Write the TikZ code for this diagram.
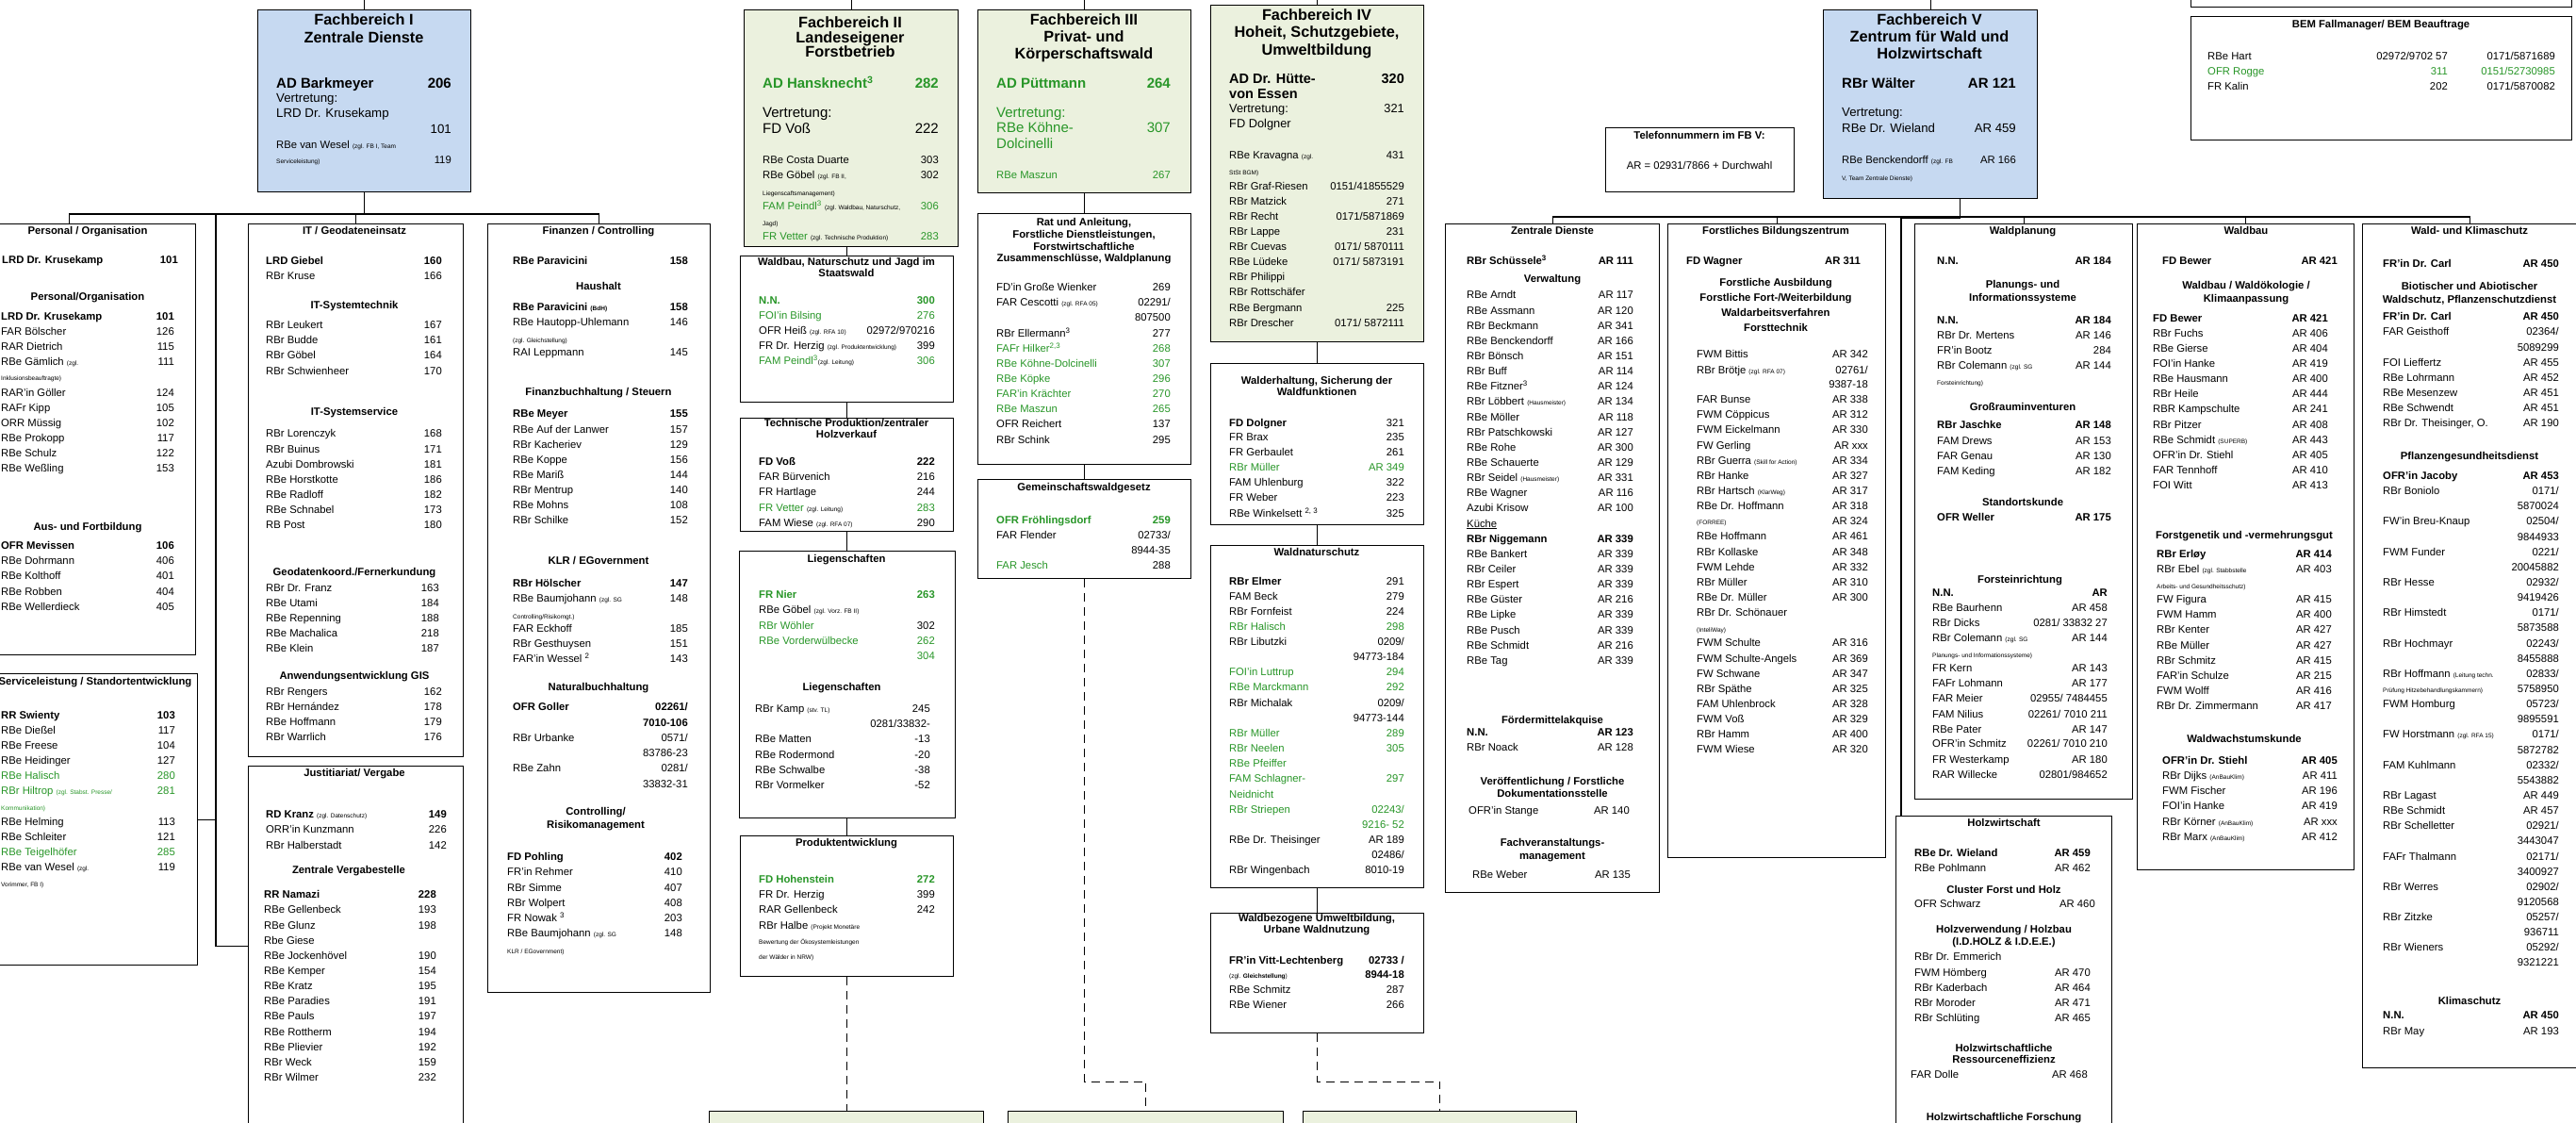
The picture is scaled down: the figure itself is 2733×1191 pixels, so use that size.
\documentclass[tikz,border=0pt]{standalone}
\usepackage{fontspec}
\setmainfont{Liberation Sans}
\usepackage{xcolor}
\usetikzlibrary{positioning}

\definecolor{fbblue}{RGB}{198,217,241}
\definecolor{fbpale}{RGB}{235,241,222}
\definecolor{fbgreen}{RGB}{40,150,40}

\newcommand\gr[1]{\textcolor{fbgreen}{#1}}
\newcommand\sm[1]{{\fontsize{6.5}{7}\selectfont #1}}
\newcommand\hi[1]{\textsuperscript{#1}}
\newcount\rowno
\newcommand\cols[3]{\def\xl{#1}\def\xr{#2}\def\xc{#3}}
% one line: name left, number right
\newcommand\rw[3]{\global\advance\rowno by 1 \edef\rn{\the\rowno}
  \node[nametext] (n\rn) at (\xl,#1+4) {#2};
  \node[numtext] (m\rn) at (\xr,#1+4) {#3};}
\newcommand\rwX[4]{\global\advance\rowno by 1 \edef\rn{\the\rowno}
  \pgfmathsetmacro\yb{#2+0.36*#1}
  \node[nametext, font=\fontsize{#1}{#1}\selectfont] (n\rn) at (\xl,\yb) {#3};
  \node[numtext, font=\fontsize{#1}{#1}\selectfont] (m\rn) at (\xr,\yb) {#4};}
\newcommand\rwm[2]{\global\advance\rowno by 1 \edef\rn{\the\rowno}
  \node[numtext] (c\rn) at (\xm,#1+4) {#2};}
\newcommand\hd[2]{\global\advance\rowno by 1 \edef\rn{\the\rowno}
  \node[headtext] (h\rn) at (\xc,#1+4) {#2};}
\newcommand\tl[2]{\global\advance\rowno by 1 \edef\rn{\the\rowno}
  \node[headtext, font=\bfseries\fontsize{16.3}{18}\selectfont] (t\rn) at (\xc,#1+6) {#2};}

\begin{document}
\begin{tikzpicture}[x=1pt, y=-1pt,
  unitbox/.style={draw, line width=1.1pt, anchor=north west, inner sep=0pt, fill=white},
  bluebox/.style={unitbox, fill=fbblue},
  palebox/.style={unitbox, fill=fbpale},
  link/.style={line width=1.1pt},
  dashlink/.style={link, dash pattern=on 9pt off 6pt},
  nametext/.style={anchor=base west, inner sep=0pt, font=\fontsize{11.3}{16}\selectfont},
  numtext/.style={anchor=base east, inner sep=0pt, font=\fontsize{11.3}{16}\selectfont},
  headtext/.style={anchor=base, inner sep=0pt, font=\bfseries\fontsize{11.3}{16}\selectfont}]
\useasboundingbox (0,0) rectangle (2733,1191);

% Fachbereiche
\node[bluebox, minimum width=226pt, minimum height=193pt] (fb1) at (273,10) {};
\node[palebox, minimum width=227pt, minimum height=251pt] (fb2) at (789,10) {};
\node[palebox, minimum width=226pt, minimum height=194pt] (fb3) at (1037,10) {};
\node[palebox, minimum width=226pt, minimum height=357pt] (fb4) at (1284,5) {};
\node[bluebox, minimum width=227pt, minimum height=200pt] (fb5) at (1934,10) {};

% Units FB I
\node[unitbox, minimum width=268pt, minimum height=457pt] (pers) at (-61,237) {};
\node[unitbox, minimum width=270pt, minimum height=309pt] (svc) at (-61,714) {};
\node[unitbox, minimum width=228pt, minimum height=565pt] (it) at (263,237) {};
\node[unitbox, minimum width=228pt, minimum height=382pt] (just) at (263,812) {};
\node[unitbox, minimum width=236pt, minimum height=815pt] (fin) at (517,237) {};

% Units FB II, III, IV
\node[unitbox, minimum width=226pt, minimum height=155pt] (wn) at (785,271) {};
\node[unitbox, minimum width=226pt, minimum height=120pt] (tp) at (785,443) {};
\node[unitbox, minimum width=229pt, minimum height=283pt] (lg) at (784,584) {};
\node[unitbox, minimum width=226pt, minimum height=149pt] (pe) at (785,886) {};
\node[unitbox, minimum width=226pt, minimum height=266pt] (rat) at (1037,226) {};
\node[unitbox, minimum width=226pt, minimum height=105pt] (gem) at (1037,508) {};
\node[unitbox, minimum width=226pt, minimum height=171pt] (weh) at (1284,385) {};
\node[unitbox, minimum width=226pt, minimum height=363pt] (wns) at (1284,578) {};
\node[unitbox, minimum width=226pt, minimum height=127pt] (wbu) at (1284,968) {};
\node[palebox, minimum width=291pt, minimum height=40pt] (g1) at (752,1178) {};
\node[palebox, minimum width=292pt, minimum height=40pt] (g2) at (1069,1178) {};
\node[palebox, minimum width=290pt, minimum height=40pt] (g3) at (1382,1178) {};

% Units FB V
\node[unitbox, minimum width=200pt, minimum height=68pt] (tel) at (1703,135) {};
\node[unitbox, minimum width=404pt, minimum height=47pt] (topbox) at (2324,-40) {};
\node[unitbox, minimum width=404pt, minimum height=131pt] (bem) at (2324,17) {};
\node[unitbox, minimum width=227pt, minimum height=709pt] (zd) at (1533,237) {};
\node[unitbox, minimum width=231pt, minimum height=672pt] (fbz) at (1769,237) {};
\node[unitbox, minimum width=231pt, minimum height=610pt] (wp) at (2031,237) {};
\node[unitbox, minimum width=230pt, minimum height=685pt] (wb) at (2267,237) {};
\node[unitbox, minimum width=228pt, minimum height=895pt] (wk) at (2506,237) {};
\node[unitbox, minimum width=229pt, minimum height=340pt] (hw) at (2011,865) {};

% Connectors
\draw[link] (fb1.north) -- ++(0,-12);
\draw[link] (fb2.north) -- ++(0,-12);
\draw[link] (fb3.north) -- ++(0,-12);
\draw[link] (fb4.north) -- ++(0,-8);
\draw[link] (fb5.north) -- ++(0,-12);
\draw[link] (fb1.south) -- ++(0,24);
\draw[link] (pers.north) -- ++(0,-10) -| (fin.north);
\draw[link] (it.north) -- ++(0,-10);
\coordinate (spine) at (229,227);
\draw[link] (spine) |- (just.west);
\draw[link] (svc.east) -| (spine);
\draw[link] (wn.north) -- (wn.north |- fb2.south);
\draw[link] (wn.south) -- (tp.north);
\draw[link] (tp.south) -- (tp.south |- lg.north);
\draw[link] (pe.north) -- (pe.north |- lg.south);
\draw[dashlink] (pe.south) -- (pe.south |- g1.north);
\draw[link] (fb3.south) -- (rat.north);
\draw[link] (rat.south) -- (gem.north);
\draw[dashlink] (gem.south) -- ++(0,533) -| (g2.north);
\draw[link] (fb4.south) -- (weh.north);
\draw[link] (weh.south) -- (wns.north);
\draw[link] (wns.south) -- (wbu.north);
\draw[dashlink] (wbu.south) -- ++(0,51) -| (g3.north);
\draw[link] ([xshift=31.5pt]fb5.south) -- ++(0,20) coordinate (bar5);
\draw[link] (zd.north) -- ++(0,-7) -| (wk.north);
\draw[link] (fbz.north) -- ++(0,-7);
\draw[link] (wp.north) -- ++(0,-7);
\draw[link] (wb.north) -- ++(0,-7);
\draw[link] ([xshift=6pt]hw.north west) |- (bar5);

% FB I
\cols{293}{479}{386}
\tl{21}{Fachbereich I}
\tl{39}{Zentrale Dienste}
\rwX{15}{88}{\textbf{AD Barkmeyer}}{\textbf{206}}
\rwX{13.3}{104}{Vertretung:}{}
\rwX{13.3}{120}{LRD Dr. Krusekamp}{}
\rwX{13.3}{137}{}{101}
\rw{153}{RBe van Wesel \sm{(zgl. FB I, Team}}{}
\rw{169}{\sm{Serviceleistung)}}{119}

% Personal / Organisation
\cols{2}{189}{93}
\hd{244}{Personal / Organisation}
\rw{275}{\textbf{LRD Dr. Krusekamp}}{\textbf{101}}
\cols{1}{185}{93}
\hd{314}{Personal/Organisation}
\rw{335}{\textbf{LRD Dr. Krusekamp}}{\textbf{101}}
\rw{351}{FAR Bölscher}{126}
\rw{367}{RAR Dietrich}{115}
\rw{383}{RBe Gämlich \sm{(zgl.}}{111}
\rw{399}{\sm{Inklusionsbeauftragte)}}{}
\rw{416}{RAR’in Göller}{124}
\rw{432}{RAFr Kipp}{105}
\rw{448}{ORR Müssig}{102}
\rw{464}{RBe Prokopp}{117}
\rw{480}{RBe Schulz}{122}
\rw{496}{RBe Weßling}{153}
\hd{558}{Aus- und Fortbildung}
\rw{578}{\textbf{OFR Mevissen}}{\textbf{106}}
\rw{594}{RBe Dohrmann}{406}
\rw{610}{RBe Kolthoff}{401}
\rw{627}{RBe Robben}{404}
\rw{643}{RBe Wellerdieck}{405}

% Serviceleistung
\cols{1}{186}{101}
\hd{722}{Serviceleistung / Standortentwicklung}
\rw{758}{\textbf{RR Swienty}}{\textbf{103}}
\rw{774}{RBe Dießel}{117}
\rw{790}{RBe Freese}{104}
\rw{806}{RBe Heidinger}{127}
\rw{822}{\gr{RBe Halisch}}{\gr{280}}
\rw{838}{\gr{RBr Hiltrop \sm{(zgl. Stabst. Presse/}}}{\gr{281}}
\rw{855}{\gr{\sm{Kommunikation)}}}{}
\rw{871}{RBe Helming}{113}
\rw{887}{RBe Schleiter}{121}
\rw{903}{\gr{RBe Teigelhöfer}}{\gr{285}}
\rw{919}{RBe van Wesel \sm{(zgl.}}{119}
\rw{936}{\sm{Vorimmer, FB I)}}{}

% IT / Geodateneinsatz
\cols{282}{469}{376}
\hd{244}{IT / Geodateneinsatz}
\rw{276}{\textbf{LRD Giebel}}{\textbf{160}}
\rw{292}{RBr Kruse}{166}
\hd{323}{IT-Systemtechnik}
\rw{344}{RBr Leukert}{167}
\rw{360}{RBr Budde}{161}
\rw{376}{RBr Göbel}{164}
\rw{393}{RBr Schwienheer}{170}
\hd{436}{IT-Systemservice}
\rw{459}{RBr Lorenczyk}{168}
\rw{476}{RBr Buinus}{171}
\rw{492}{Azubi Dombrowski}{181}
\rw{508}{RBe Horstkotte}{186}
\rw{524}{RBe Radloff}{182}
\rw{540}{RBe Schnabel}{173}
\rw{556}{RB Post}{180}
\hd{606}{Geodatenkoord./Fernerkundung}
\cols{282}{466}{376}
\rw{623}{RBr Dr. Franz}{163}
\rw{639}{RBe Utami}{184}
\rw{655}{RBe Repenning}{188}
\rw{671}{RBe Machalica}{218}
\rw{687}{RBe Klein}{187}
\hd{716}{Anwendungsentwicklung GIS}
\cols{282}{469}{376}
\rw{733}{RBr Rengers}{162}
\rw{749}{RBr Hernández}{178}
\rw{765}{RBe Hoffmann}{179}
\rw{781}{RBr Warrlich}{176}

% Justitiariat / Vergabe
\cols{282}{474}{376}
\hd{819}{Justitiariat/ Vergabe}
\rw{863}{\textbf{RD Kranz} \sm{(zgl. Datenschutz)}}{\textbf{149}}
\rw{879}{ORR’in Kunzmann}{226}
\rw{896}{RBr Halberstadt}{142}
\cols{280}{463}{370}
\hd{922}{Zentrale Vergabestelle}
\rw{948}{\textbf{RR Namazi}}{\textbf{228}}
\rw{964}{RBe Gellenbeck}{193}
\rw{981}{RBe Glunz}{198}
\rw{997}{Rbe Giese}{}
\rw{1013}{RBe Jockenhövel}{190}
\rw{1029}{RBe Kemper}{154}
\rw{1045}{RBe Kratz}{195}
\rw{1061}{RBe Paradies}{191}
\rw{1077}{RBe Pauls}{197}
\rw{1094}{RBe Rottherm}{194}
\rw{1110}{RBe Plievier}{192}
\rw{1126}{RBr Weck}{159}
\rw{1142}{RBr Wilmer}{232}

% Finanzen / Controlling
\cols{544}{730}{635}
\hd{244}{Finanzen / Controlling}
\rw{276}{\textbf{RBe Paravicini}}{\textbf{158}}
\hd{303}{Haushalt}
\rw{325}{\textbf{RBe Paravicini} \sm{\textbf{(BdH)}}}{\textbf{158}}
\rw{341}{RBe Hautopp-Uhlemann}{146}
\rw{359}{\sm{(zgl. Gleichstellung)}}{}
\rw{373}{RAI Leppmann}{145}
\hd{415}{Finanzbuchhaltung / Steuern}
\rw{438}{\textbf{RBe Meyer}}{\textbf{155}}
\rw{455}{RBe Auf der Lanwer}{157}
\rw{471}{RBr Kacheriev}{129}
\rw{487}{RBe Koppe}{156}
\rw{503}{RBe Mariß}{144}
\rw{519}{RBr Mentrup}{140}
\rw{535}{RBe Mohns}{108}
\rw{551}{RBr Schilke}{152}
\hd{594}{KLR /  EGovernment}
\rw{618}{\textbf{RBr Hölscher}}{\textbf{147}}
\rw{634}{RBe Baumjohann \sm{(zgl. SG}}{148}
\rw{652}{\sm{Controlling/Risikomgt.)}}{}
\rw{666}{FAR Eckhoff}{185}
\rw{682}{RBr Gesthuysen}{151}
\rw{698}{FAR’in Wessel \hi{2}}{143}
\hd{728}{Naturalbuchhaltung}
\rw{749}{\textbf{OFR Goller}}{\textbf{02261/}}
\rw{766}{}{\textbf{7010-106}}
\rw{782}{RBr Urbanke}{0571/}
\rw{798}{}{83786-23}
\rw{814}{RBe Zahn}{0281/}
\rw{831}{}{33832-31}
\cols{538}{724}{632}
\hd{860}{Controlling/}
\hd{874}{Risikomanagement}
\rw{908}{\textbf{FD Pohling}}{\textbf{402}}
\rw{924}{FR’in Rehmer}{410}
\rw{941}{RBr Simme}{407}
\rw{957}{RBr Wolpert}{408}
\rw{973}{FR Nowak \hi{3}}{203}
\rw{989}{RBe Baumjohann \sm{(zgl. SG}}{148}
\rw{1007}{\sm{KLR / EGovernment)}}{}

% FB II
\cols{809}{996}{902}
\tl{23}{Fachbereich II}
\tl{39}{Landeseigener}
\tl{54}{Forstbetrieb}
\rwX{15}{88}{\gr{\textbf{AD Hansknecht\hi{3}}}}{\gr{\textbf{282}}}
\rwX{15}{119}{Vertretung:}{}
\rwX{15}{136}{FD Voß}{222}
\rw{169}{RBe Costa Duarte}{303}
\rw{185}{RBe Göbel \sm{(zgl. FB II,}}{302}
\rw{203}{\sm{Liegenscaftsmanagement)}}{}
\rw{218}{\gr{FAM Peindl\hi{3}} \sm{(zgl. Waldbau, Naturschutz,}}{\gr{306}}
\rw{235}{\sm{Jagd)}}{}
\rw{250}{\gr{FR Vetter} \sm{(zgl. Technische Produktion)}}{\gr{283}}

\cols{805}{992}{898}
\hd{277}{Waldbau, Naturschutz und Jagd im}
\hd{289}{Staatswald}
\rw{318}{\gr{\textbf{N.N.}}}{\gr{\textbf{300}}}
\rw{334}{\gr{FOI’in Bilsing}}{\gr{276}}
\rw{350}{OFR Heiß \sm{(zgl. RFA 10)}}{02972/970216}
\rw{366}{FR Dr. Herzig \sm{(zgl. Produktentwicklung)}}{399}
\rw{382}{\gr{FAM Peindl\hi{3}}\sm{(zgl. Leitung)}}{\gr{306}}

\hd{448}{Technische Produktion/zentraler}
\hd{460}{Holzverkauf}
\rw{489}{\textbf{FD Voß}}{\textbf{222}}
\rw{505}{FAR Bürvenich}{216}
\rw{521}{FR Hartlage}{244}
\rw{538}{\gr{FR Vetter} \sm{(zgl. Leitung)}}{\gr{283}}
\rw{554}{FAM Wiese \sm{(zgl. RFA 07)}}{290}

\hd{592}{Liegenschaften}
\rw{630}{\gr{\textbf{FR Nier}}}{\gr{\textbf{263}}}
\rw{646}{RBe Göbel \sm{(zgl. Vorz. FB II)}}{}
\rw{663}{\gr{RBr Wöhler}}{302}
\rw{679}{\gr{RBe Vorderwülbecke}}{\gr{262}}
\rw{695}{}{\gr{304}}
\cols{801}{987}{893}
\hd{728}{Liegenschaften}
\rw{751}{RBr Kamp \sm{(stv. TL)}}{245}
\rw{767}{}{0281/33832-}
\rw{783}{RBe Matten}{-13}
\rw{800}{RBe Rodermond}{-20}
\rw{816}{RBe Schwalbe}{-38}
\rw{832}{RBr Vormelker}{-52}

\cols{805}{992}{898}
\hd{893}{Produktentwicklung}
\rw{932}{\gr{\textbf{FD Hohenstein}}}{\gr{\textbf{272}}}
\rw{948}{FR Dr. Herzig}{399}
\rw{964}{RAR Gellenbeck}{242}
\rw{981}{RBr Halbe \sm{(Projekt Monetäre}}{}
\rw{997}{\sm{Bewertung der Ökosystemleistungen}}{}
\rw{1013}{\sm{der Wälder in NRW)}}{}

% FB III
\cols{1057}{1242}{1150}
\tl{20}{Fachbereich III}
\tl{38}{Privat- und}
\tl{56}{Körperschaftswald}
\rwX{15}{88}{\gr{\textbf{AD Püttmann}}}{\gr{\textbf{264}}}
\rwX{15}{119}{\gr{Vertretung:}}{}
\rwX{15}{135}{\gr{RBe Köhne-}}{\gr{307}}
\rwX{15}{152}{\gr{Dolcinelli}}{}
\rw{185}{\gr{RBe Maszun}}{\gr{267}}

\hd{235}{Rat und Anleitung,}
\hd{248}{Forstliche Dienstleistungen,}
\hd{261}{Forstwirtschaftliche}
\hd{273}{Zusammenschlüsse, Waldplanung}
\rw{304}{FD’in Große Wienker}{269}
\rw{320}{FAR Cescotti \sm{(zgl. RFA 05)}}{02291/}
\rw{336}{}{807500}
\rw{353}{RBr Ellermann\hi{3}}{277}
\rw{369}{\gr{FAFr Hilker\hi{2,3}}}{\gr{268}}
\rw{385}{\gr{RBe Köhne-Dolcinelli}}{\gr{307}}
\rw{401}{\gr{RBe Köpke}}{\gr{296}}
\rw{417}{\gr{FAR’in Krächter}}{\gr{270}}
\rw{433}{\gr{RBe Maszun}}{\gr{265}}
\rw{449}{OFR Reichert}{137}
\rw{466}{RBr Schink}{295}

\hd{516}{Gemeinschaftswaldgesetz}
\rw{551}{\gr{\textbf{OFR Fröhlingsdorf}}}{\gr{\textbf{259}}}
\rw{567}{FAR Flender}{02733/}
\rw{583}{}{8944-35}
\rw{599}{\gr{FAR Jesch}}{288}

% FB IV
\cols{1304}{1490}{1397}
\tl{15}{Fachbereich IV}
\tl{33}{Hoheit, Schutzgebiete,}
\tl{52}{Umweltbildung}
\rwX{14.5}{83}{\textbf{AD Dr. Hütte-}}{\textbf{320}}
\rwX{14.5}{99}{\textbf{von Essen}}{}
\rwX{12.8}{115}{Vertretung:}{321}
\rwX{12.8}{131}{FD Dolgner}{}
\rw{164}{RBe Kravagna \sm{(zgl.}}{431}
\rw{181}{\sm{StSt BGM)}}{}
\rw{197}{RBr Graf-Riesen}{0151/41855529}
\rw{213}{RBr Matzick}{271}
\rw{229}{RBr Recht}{0171/5871869}
\rw{245}{RBr Lappe}{231}
\rw{261}{RBr Cuevas}{0171/ 5870111}
\rw{277}{RBe Lüdeke}{0171/ 5873191}
\rw{293}{RBr Philippi}{}
\rw{309}{RBr Rottschäfer}{}
\rw{326}{RBe Bergmann}{225}
\rw{342}{RBr Drescher}{0171/ 5872111}

\hd{403}{Walderhaltung, Sicherung der}
\hd{415}{Waldfunktionen}
\rw{448}{\textbf{FD Dolgner}}{321}
\rw{463}{FR Brax}{235}
\rw{479}{FR Gerbaulet}{261}
\rw{495}{\gr{RBr Müller}}{\gr{AR 349}}
\rw{511}{FAM Uhlenburg}{322}
\rw{527}{FR Weber}{223}
\rw{544}{RBe Winkelsett \hi{2, 3}}{325}

\hd{585}{Waldnaturschutz}
\rw{616}{\textbf{RBr Elmer}}{291}
\rw{632}{FAM Beck}{279}
\rw{648}{RBr Fornfeist}{224}
\rw{664}{\gr{RBr Halisch}}{\gr{298}}
\rw{680}{RBr Libutzki}{0209/}
\rw{696}{}{94773-184}
\rw{712}{\gr{FOI’in Luttrup}}{\gr{294}}
\rw{728}{\gr{RBe Marckmann}}{\gr{292}}
\rw{745}{RBr Michalak}{0209/}
\rw{761}{}{94773-144}
\rw{777}{\gr{RBr Müller}}{\gr{289}}
\rw{793}{\gr{RBr Neelen}}{\gr{305}}
\rw{809}{\gr{RBe Pfeiffer}}{}
\rw{825}{\gr{FAM Schlagner-}}{\gr{297}}
\rw{842}{\gr{Neidnicht}}{}
\rw{858}{\gr{RBr Striepen}}{\gr{02243/}}
\rw{874}{}{\gr{9216- 52}}
\rw{890}{RBe Dr. Theisinger}{AR 189}
\rw{906}{}{02486/}
\rw{922}{RBr Wingenbach}{8010-19}

\hd{973}{Waldbezogene Umweltbildung,}
\hd{985}{Urbane Waldnutzung}
\rw{1018}{\textbf{FR’in Vitt-Lechtenberg}}{\textbf{02733 /}}
\rw{1033}{\sm{(zgl. \textbf{Gleichstellung})}}{\textbf{8944-18}}
\rw{1049}{RBe Schmitz}{287}
\rw{1065}{RBe Wiener}{266}

% Telefon, BEM
\cols{1720}{1890}{1803}
\hd{143}{Telefonnummern im FB V:}
\hd{175}{\mdseries AR = 02931/7866 + Durchwahl}
\cols{2342}{2711}{2526}\def\xm{2597}
\hd{25}{BEM Fallmanager/ BEM Beauftrage}
\rw{59}{RBe Hart}{0171/5871689}\rwm{59}{02972/9702 57}
\rw{75}{\gr{OFR Rogge}}{\gr{0151/52730985}}\rwm{75}{\gr{311}}
\rw{91}{FR Kalin}{0171/5870082}\rwm{91}{202}

% FB V
\cols{1954}{2139}{2047}
\tl{20}{Fachbereich V}
\tl{38}{Zentrum für Wald und}
\tl{56}{Holzwirtschaft}
\rwX{15}{88}{\textbf{RBr Wälter}}{\textbf{AR 121}}
\rwX{13.2}{119}{Vertretung:}{}
\rwX{13.2}{136}{RBe Dr. Wieland}{AR 459}
\rw{169}{RBe Benckendorff \sm{(zgl. FB}}{AR 166}
\rw{187}{\sm{V, Team Zentrale Dienste)}}{}

% Zentrale Dienste
\cols{1556}{1733}{1647}
\hd{244}{Zentrale Dienste}
\rw{276}{\textbf{RBr Schüssele\hi{3}}}{\textbf{AR 111}}
\hd{295}{Verwaltung}
\rw{312}{RBe Arndt}{AR 117}
\rw{329}{RBe Assmann}{AR 120}
\rw{345}{RBr Beckmann}{AR 341}
\rw{361}{RBe Benckendorff}{AR 166}
\rw{377}{RBr Bönsch}{AR 151}
\rw{393}{RBr Buff}{AR 114}
\rw{409}{RBe Fitzner\hi{3}}{AR 124}
\rw{425}{RBr Löbbert \sm{(Hausmeister)}}{AR 134}
\rw{442}{RBe Möller}{AR 118}
\rw{458}{RBr Patschkowski}{AR 127}
\rw{474}{RBe Rohe}{AR 300}
\rw{490}{RBe Schauerte}{AR 129}
\rw{506}{RBr Seidel \sm{(Hausmeister)}}{AR 331}
\rw{522}{RBe Wagner}{AR 116}
\rw{538}{Azubi Krisow}{AR 100}
\rw{555}{\underline{Küche}}{}
\rw{571}{\textbf{RBr Niggemann}}{\textbf{AR 339}}
\rw{587}{RBe Bankert}{AR 339}
\rw{603}{RBr Ceiler}{AR 339}
\rw{619}{RBr Espert}{AR 339}
\rw{635}{RBe Güster}{AR 216}
\rw{651}{RBe Lipke}{AR 339}
\rw{668}{RBe Pusch}{AR 339}
\rw{684}{RBe Schmidt}{AR 216}
\rw{700}{RBe Tag}{AR 339}
\hd{763}{Fördermittelakquise}
\rw{776}{\textbf{N.N.}}{\textbf{AR 123}}
\rw{792}{RBr Noack}{AR 128}
\hd{828}{Veröffentlichung / Forstliche}
\hd{841}{Dokumentationsstelle}
\cols{1558}{1729}{1647}
\rw{859}{OFR’in Stange}{AR 140}
\hd{893}{Fachveranstaltungs-}
\hd{907}{management}
\cols{1562}{1730}{1647}
\rw{927}{RBe Weber}{AR 135}

% Forstliches Bildungszentrum
\cols{1789}{1974}{1884}
\hd{244}{Forstliches Bildungszentrum}
\rw{276}{\textbf{FD Wagner}}{\textbf{AR 311}}
\hd{299}{Forstliche Ausbildung}
\hd{315}{Forstliche Fort-/Weiterbildung}
\hd{331}{Waldarbeitsverfahren}
\hd{347}{Forsttechnik}
\cols{1800}{1982}{1884}
\rw{375}{FWM Bittis}{AR 342}
\rw{392}{RBr Brötje \sm{(zgl. RFA 07)}}{02761/}
\rw{407}{}{9387-18}
\rw{423}{FAR Bunse}{AR 338}
\rw{439}{FWM Cöppicus}{AR 312}
\rw{455}{FWM Eickelmann}{AR 330}
\rw{472}{FW Gerling}{AR xxx}
\rw{488}{RBr Guerra \sm{(Skill for Action)}}{AR 334}
\rw{504}{RBr Hanke}{AR 327}
\rw{520}{RBr Hartsch \sm{(KlarWeg)}}{AR 317}
\rw{536}{RBe Dr. Hoffmann}{AR 318}
\rw{552}{\sm{(FORREE)}}{AR 324}
\rw{568}{RBe Hoffmann}{AR 461}
\rw{585}{RBr Kollaske}{AR 348}
\rw{601}{FWM Lehde}{AR 332}
\rw{617}{RBr Müller}{AR 310}
\rw{633}{RBe Dr. Müller}{AR 300}
\rw{649}{RBr Dr. Schönauer}{}
\rw{666}{\sm{(InteliWay)}}{}
\rw{681}{FWM Schulte}{AR 316}
\rw{698}{FWM Schulte-Angels}{AR 369}
\rw{714}{FW Schwane}{AR 347}
\rw{730}{RBr Späthe}{AR 325}
\rw{746}{FAM Uhlenbrock}{AR 328}
\rw{762}{FWM Voß}{AR 329}
\rw{778}{RBr Hamm}{AR 400}
\rw{794}{FWM Wiese}{AR 320}

% Waldplanung
\cols{2055}{2240}{2146}
\hd{244}{Waldplanung}
\rw{276}{\textbf{N.N.}}{\textbf{AR 184}}
\hd{301}{Planungs- und}
\hd{315}{Informationssysteme}
\rw{339}{\textbf{N.N.}}{\textbf{AR 184}}
\rw{355}{RBr Dr. Mertens}{AR 146}
\rw{371}{FR’in Bootz}{284}
\rw{387}{RBr Colemann \sm{(zgl. SG}}{AR 144}
\rw{404}{\sm{Forsteinrichtung)}}{}
\hd{431}{Großrauminventuren}
\rw{450}{\textbf{RBr Jaschke}}{\textbf{AR 148}}
\rw{467}{FAM Drews}{AR 153}
\rw{483}{FAR Genau}{AR 130}
\rw{499}{FAM Keding}{AR 182}
\hd{532}{Standortskunde}
\rw{548}{\textbf{OFR Weller}}{\textbf{AR 175}}
\cols{2050}{2236}{2143}
\hd{614}{Forsteinrichtung}
\rw{628}{\textbf{N.N.}}{\textbf{AR}}
\rw{644}{RBe Baurhenn}{AR 458}
\rw{660}{RBr Dicks}{0281/ 33832 27}
\rw{676}{RBr Colemann \sm{(zgl. SG}}{AR 144}
\rw{693}{\sm{Planungs- und Informationssysteme)}}{}
\rw{708}{FR Kern}{AR 143}
\rw{724}{FAFr Lohmann}{AR 177}
\rw{740}{FAR Meier}{02955/ 7484455}
\rw{757}{FAM Nilius}{02261/ 7010 211}
\rw{773}{RBe Pater}{AR 147}
\rw{788}{OFR’in Schmitz}{02261/ 7010 210}
\rw{805}{FR Westerkamp}{AR 180}
\rw{821}{RAR Willecke}{02801/984652}

% Waldbau
\cols{2294}{2480}{2383}
\hd{244}{Waldbau}
\rw{276}{\textbf{FD Bewer}}{\textbf{AR 421}}
\hd{302}{Waldbau / Waldökologie /}
\hd{316}{Klimaanpassung}
\cols{2284}{2470}{2383}
\rw{337}{\textbf{FD Bewer}}{\textbf{AR 421}}
\rw{353}{RBr Fuchs}{AR 406}
\rw{369}{RBe Gierse}{AR 404}
\rw{385}{FOI’in Hanke}{AR 419}
\rw{401}{RBe Hausmann}{AR 400}
\rw{417}{RBr Heile}{AR 444}
\rw{433}{RBR Kampschulte}{AR 241}
\rw{450}{RBr Pitzer}{AR 408}
\rw{466}{RBe Schmidt \sm{(SUPERB)}}{AR 443}
\rw{482}{OFR’in Dr. Stiehl}{AR 405}
\rw{498}{FAR Tennhoff}{AR 410}
\rw{514}{FOI Witt}{AR 413}
\cols{2288}{2474}{2381}
\hd{567}{Forstgenetik und -vermehrungsgut}
\rw{587}{\textbf{RBr Erløy}}{\textbf{AR 414}}
\rw{603}{RBr Ebel \sm{(zgl. Stabbstelle}}{AR 403}
\rw{620}{\sm{Arbeits- und Gesundheitsschutz)}}{}
\rw{635}{FW Figura}{AR 415}
\rw{651}{FWM Hamm}{AR 400}
\rw{667}{RBr Kenter}{AR 427}
\rw{684}{RBe Müller}{AR 427}
\rw{700}{RBr Schmitz}{AR 415}
\rw{716}{FAR’in Schulze}{AR 215}
\rw{732}{FWM Wolff}{AR 416}
\rw{748}{RBr Dr. Zimmermann}{AR 417}
\hd{783}{Waldwachstumskunde}
\cols{2294}{2480}{2383}
\rw{806}{\textbf{OFR’in Dr. Stiehl}}{\textbf{AR 405}}
\rw{822}{RBr Dijks \sm{(AnBauKlim)}}{AR 411}
\rw{838}{FWM Fischer}{AR 196}
\rw{854}{FOI’in Hanke}{AR 419}
\rw{871}{RBr Körner \sm{(AnBauKlim)}}{AR xxx}
\rw{887}{RBr Marx \sm{(AnBauKlim)}}{AR 412}

% Wald- und Klimaschutz
\cols{2528}{2715}{2620}
\hd{244}{Wald- und Klimaschutz}
\rw{279}{\textbf{FR’in Dr. Carl}}{\textbf{AR 450}}
\hd{303}{Biotischer und Abiotischer}
\hd{317}{Waldschutz, Pflanzenschutzdienst}
\rw{335}{\textbf{FR’in Dr. Carl}}{\textbf{AR 450}}
\rw{351}{FAR Geisthoff}{02364/}
\rw{368}{}{5089299}
\rw{384}{FOI Lieffertz}{AR 455}
\rw{400}{RBe Lohrmann}{AR 452}
\rw{416}{RBe Mesenzew}{AR 451}
\rw{432}{RBe Schwendt}{AR 451}
\rw{448}{RBr Dr. Theisinger, O.}{AR 190}
\hd{483}{Pflanzengesundheitsdienst}
\rw{504}{\textbf{OFR’in Jacoby}}{\textbf{AR 453}}
\rw{520}{RBr Boniolo}{0171/}
\rw{536}{}{5870024}
\rw{552}{FW’in Breu-Knaup}{02504/}
\rw{569}{}{9844933}
\rw{585}{FWM Funder}{0221/}
\rw{601}{}{20045882}
\rw{617}{RBr Hesse}{02932/}
\rw{633}{}{9419426}
\rw{649}{RBr Himstedt}{0171/}
\rw{665}{}{5873588}
\rw{682}{RBr Hochmayr}{02243/}
\rw{698}{}{8455888}
\rw{714}{RBr Hoffmann \sm{(Leitung techn.}}{02833/}
\rw{730}{\sm{Prüfung Hitzebehandlungskammern)}}{5758950}
\rw{746}{FWM Homburg}{05723/}
\rw{762}{}{9895591}
\rw{778}{FW Horstmann \sm{(zgl. RFA 15)}}{0171/}
\rw{795}{}{5872782}
\rw{811}{FAM Kuhlmann}{02332/}
\rw{827}{}{5543882}
\rw{843}{RBr Lagast}{AR 449}
\rw{859}{RBe Schmidt}{AR 457}
\rw{875}{RBr Schelletter}{02921/}
\rw{891}{}{3443047}
\rw{908}{FAFr Thalmann}{02171/}
\rw{924}{}{3400927}
\rw{940}{RBr Werres}{02902/}
\rw{956}{}{9120568}
\rw{972}{RBr Zitzke}{05257/}
\rw{988}{}{936711}
\rw{1004}{RBr Wieners}{05292/}
\rw{1020}{}{9321221}
\hd{1061}{Klimaschutz}
\rw{1076}{\textbf{N.N.}}{\textbf{AR 450}}
\rw{1093}{RBr May}{AR 193}

% Holzwirtschaft
\cols{2031}{2218}{2126}
\hd{872}{Holzwirtschaft}
\rw{904}{\textbf{RBe Dr. Wieland}}{\textbf{AR 459}}
\rw{920}{RBe Pohlmann}{AR 462}
\hd{943}{Cluster Forst und Holz}
\cols{2031}{2223}{2126}
\rw{958}{OFR Schwarz}{AR 460}
\cols{2031}{2218}{2126}
\hd{985}{Holzverwendung / Holzbau}
\hd{998}{(I.D.HOLZ \& I.D.E.E.)}
\rw{1014}{RBr Dr. Emmerich}{}
\rw{1031}{FWM Hömberg}{AR 470}
\rw{1047}{RBr Kaderbach}{AR 464}
\rw{1063}{RBr Moroder}{AR 471}
\rw{1079}{RBr Schlüting}{AR 465}
\hd{1111}{Holzwirtschaftliche}
\hd{1123}{Ressourceneffizienz}
\cols{2027}{2215}{2126}
\rw{1139}{FAR Dolle}{AR 468}
\hd{1184}{Holzwirtschaftliche Forschung}
\end{tikzpicture}
\end{document}
